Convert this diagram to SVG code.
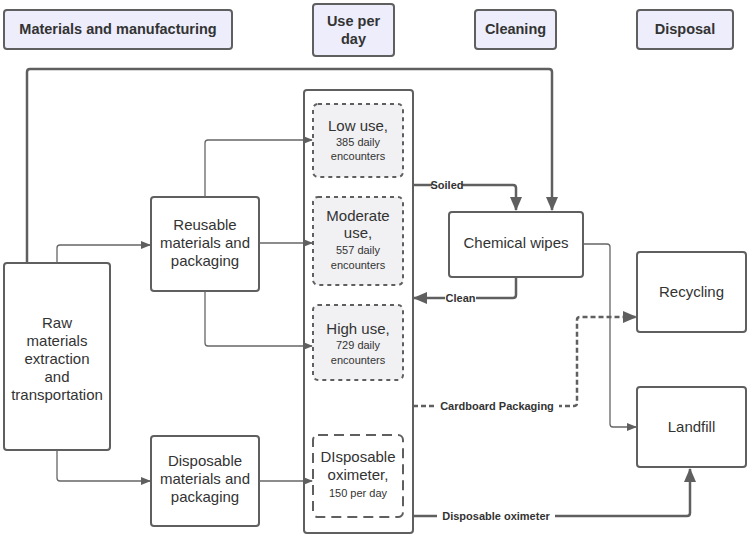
<svg xmlns="http://www.w3.org/2000/svg" width="748" height="537" viewBox="0 0 748 537">
<style>
text{font-family:"Liberation Sans",Arial,sans-serif;fill:#333;text-anchor:middle}
.hdr rect{fill:#ededfb;stroke:#5f5f5f;stroke-width:2}
.hdr text{font-weight:bold;font-size:14.5px}
.box{fill:#fff;stroke:#5f5f5f;stroke-width:2}
.use{fill:#f1f1f3;stroke:#5f5f5f;stroke-width:2;stroke-dasharray:4 4}
.disp{fill:#fff;stroke:#5f5f5f;stroke-width:2;stroke-dasharray:10 6}
.t{font-size:15px}
.s{font-size:11px}
.thin{fill:none;stroke:#666;stroke-width:1.3}
.thick{fill:none;stroke:#5f5f5f;stroke-width:2.5}
.dash{fill:none;stroke:#5f5f5f;stroke-width:2.5;stroke-dasharray:5 3}
.lbl{font-size:11px;font-weight:bold}
.lblbg{fill:#fff}
</style>
<defs>
<marker id="ah" markerWidth="10" markerHeight="10" refX="9" refY="5" orient="auto" markerUnits="userSpaceOnUse"><path d="M0,1 L10,5 L0,9 Z" fill="#5f5f5f"/></marker>
<marker id="ahb" markerWidth="14" markerHeight="14" refX="13" refY="7" orient="auto" markerUnits="userSpaceOnUse"><path d="M0,1 L14,7 L0,13 Z" fill="#5f5f5f"/></marker>
</defs>

<g id="header-materials" class="hdr"><rect x="4" y="10" width="228" height="39" rx="3"/><text x="118" y="34">Materials and manufacturing</text></g>
<g id="header-use" class="hdr"><rect x="313" y="4" width="81" height="52" rx="3"/><text x="353.5" y="26">Use per</text><text x="353.5" y="44">day</text></g>
<g id="header-cleaning" class="hdr"><rect x="475" y="10" width="81" height="39" rx="3"/><text x="515.5" y="34">Cleaning</text></g>
<g id="header-disposal" class="hdr"><rect x="637" y="10" width="96" height="39" rx="3"/><text x="685" y="34">Disposal</text></g>

<g id="raw"><rect class="box" x="4" y="263" width="106" height="187" rx="3"/>
<text class="t" x="57" y="328">Raw</text><text class="t" x="57" y="346">materials</text><text class="t" x="57" y="364">extraction</text><text class="t" x="57" y="382">and</text><text class="t" x="57" y="400">transportation</text></g>
<g id="reusable"><rect class="box" x="151" y="197" width="108" height="94" rx="3"/>
<text class="t" x="205" y="230">Reusable</text><text class="t" x="205" y="248">materials and</text><text class="t" x="205" y="266">packaging</text></g>
<g id="disposable"><rect class="box" x="151" y="436" width="108" height="90" rx="3"/>
<text class="t" x="205" y="466">Disposable</text><text class="t" x="205" y="484">materials and</text><text class="t" x="205" y="502">packaging</text></g>

<g id="use-container"><rect class="box" x="304" y="90" width="109" height="443" rx="3"/></g>
<g id="low-use"><rect class="use" x="313" y="104" width="90" height="73" rx="5"/>
<text class="t" x="358" y="131">Low use,</text><text class="s" x="358" y="146">385 daily</text><text class="s" x="358" y="160">encounters</text></g>
<g id="moderate-use"><rect class="use" x="313" y="197" width="90" height="88" rx="5"/>
<text class="t" x="358" y="221">Moderate</text><text class="t" x="358" y="238">use,</text><text class="s" x="358" y="254">557 daily</text><text class="s" x="358" y="269">encounters</text></g>
<g id="high-use"><rect class="use" x="313" y="305" width="90" height="75" rx="5"/>
<text class="t" x="358" y="334">High use,</text><text class="s" x="358" y="349">729 daily</text><text class="s" x="358" y="364">encounters</text></g>
<g id="disposable-oximeter"><rect class="disp" x="313" y="435" width="90" height="82" rx="5"/>
<text class="t" x="358" y="462">DIsposable</text><text class="t" x="358" y="480">oximeter,</text><text class="s" x="358" y="497">150 per day</text></g>

<g id="chemical-wipes"><rect class="box" x="449" y="212" width="134" height="65" rx="3"/><text class="t" x="516" y="248">Chemical wipes</text></g>
<g id="recycling"><rect class="box" x="637" y="252" width="109" height="80" rx="3"/><text class="t" x="691.5" y="297">Recycling</text></g>
<g id="landfill"><rect class="box" x="637" y="387" width="109" height="80" rx="3"/><text class="t" x="691.5" y="432">Landfill</text></g>

<g id="connectors">
<path class="thick" d="M27,263 V72 Q27,69 30,69 H549 Q552,69 552,72 V210" marker-end="url(#ahb)"/>
<path class="thin" d="M57,263 V248 Q57,245 60,245 H150" marker-end="url(#ah)"/>
<path class="thin" d="M205,197 V143 Q205,140 208,140 H312" marker-end="url(#ah)"/>
<path class="thin" d="M259,243 H312" marker-end="url(#ah)"/>
<path class="thin" d="M205,291 V343 Q205,346 208,346 H312" marker-end="url(#ah)"/>
<path class="thin" d="M57,450 V478 Q57,481 60,481 H150" marker-end="url(#ah)"/>
<path class="thin" d="M259,481 H312" marker-end="url(#ah)"/>
<path class="thick" d="M413,185 H513 Q516,185 516,188 V210" marker-end="url(#ahb)"/>
<path class="thick" d="M516,277 V295 Q516,298 513,298 H414" marker-end="url(#ahb)"/>
<path class="thin" d="M583,244 H607 Q610,244 610,247 V424 Q610,427 613,427 H636" marker-end="url(#ah)"/>
<path class="dash" d="M413,406 H574 Q577,406 577,403 V320 Q577,317 580,317 H636" marker-end="url(#ahb)"/>
<path class="thick" d="M413,516 H687 Q690,516 690,513 V469" marker-end="url(#ahb)"/>
<rect class="lblbg" x="432" y="179" width="30" height="11"/>
<text class="lbl" x="447" y="189">Soiled</text>
<rect class="lblbg" x="445" y="292" width="31" height="11"/>
<text class="lbl" x="460.5" y="302">Clean</text>
<rect class="lblbg" x="435" y="400" width="124" height="11"/>
<text class="lbl" x="497" y="410">Cardboard Packaging</text>
<rect class="lblbg" x="437" y="510" width="118" height="11"/>
<text class="lbl" x="496" y="520">Disposable oximeter</text>
</g>
</svg>
